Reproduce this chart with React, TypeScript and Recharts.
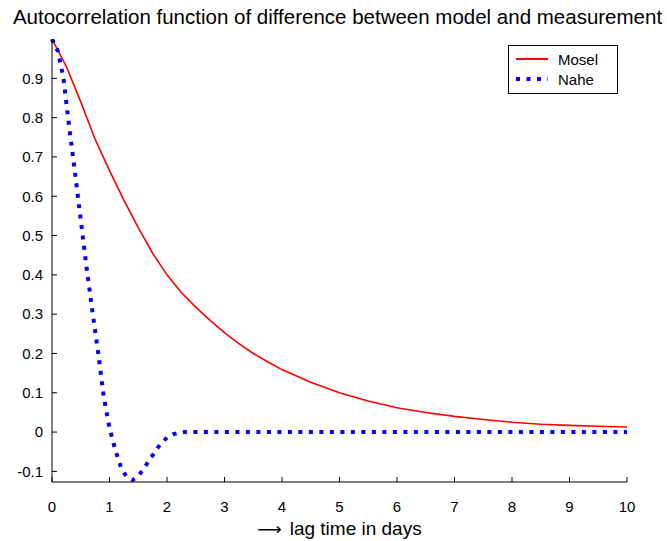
import { CartesianGrid, Label, Legend, Line, LineChart, XAxis, YAxis } from "recharts";

const TITLE = "Autocorrelation function of difference between model and measurement";
const X_LABEL = "lag time in days";

const X_TICKS = [0, 1, 2, 3, 4, 5, 6, 7, 8, 9, 10];
const Y_TICKS = [-0.1, 0, 0.1, 0.2, 0.3, 0.4, 0.5, 0.6, 0.7, 0.8, 0.9];

const MOSEL_DAYS = [0, 0.25, 0.5, 0.75, 1, 1.25, 1.5, 1.75, 2, 2.25, 2.5, 2.75, 3, 3.25, 3.5, 3.75, 4, 4.5, 5, 5.5, 6, 6.5, 7, 7.5, 8, 8.5, 9, 9.5, 10];
const MOSEL_ACF = [1, 0.93, 0.84, 0.745, 0.665, 0.59, 0.52, 0.455, 0.4, 0.355, 0.318, 0.284, 0.253, 0.225, 0.2, 0.179, 0.159, 0.127, 0.1, 0.079, 0.062, 0.05, 0.04, 0.032, 0.025, 0.02, 0.017, 0.015, 0.013];

const NAHE_DAYS = [0, 0.1, 0.2, 0.3, 0.4, 0.5, 0.6, 0.7, 0.8, 0.9, 1, 1.1, 1.2, 1.3, 1.4, 1.5, 1.6, 1.7, 1.8, 1.9, 2, 2.1, 2.2, 2.3, 2.5, 3, 4, 5, 6, 7, 8, 9, 10];
const NAHE_ACF = [1, 0.97, 0.9, 0.775, 0.66, 0.54, 0.42, 0.31, 0.205, 0.09, 0.01, -0.045, -0.09, -0.115, -0.122, -0.112, -0.092, -0.07, -0.048, -0.028, -0.014, -0.006, -0.002, 0, 0, 0, 0, 0, 0, 0, 0, 0, 0];

type Series = { key: string; label: string; color: string; width: number; dash?: string };

const SERIES: Series[] = [
  { key: "mosel", label: "Mosel", color: "#ff0000", width: 1.6 },
  { key: "nahe", label: "Nahe", color: "#0000ff", width: 4, dash: "4 6.5" },
];

const moselData = MOSEL_DAYS.map((x, i) => ({ x, mosel: MOSEL_ACF[i] }));
const naheData = NAHE_DAYS.map((x, i) => ({ x, nahe: NAHE_ACF[i] }));

const FONT = "'Liberation Sans', Arial, Helvetica, sans-serif";
const tickStyle = { fontSize: 15, fill: "#000", fontFamily: FONT };

function fmt(v: number): string {
  return String(Math.round(v * 10) / 10);
}

// xlabel with a long thin arrow, like MATLAB's \rightarrow
function XAxisTitle(props: any) {
  const vb = props.viewBox ?? { x: 0, y: 0, width: 0, height: 0 };
  const cx = vb.x + vb.width / 2;
  const y = vb.y + vb.height + 23;
  return (
    <text x={cx} y={y} textAnchor="middle" fill="#000" style={{ fontFamily: FONT, fontSize: 19 }}>
      <tspan style={{ fontFamily: "'DejaVu Sans', sans-serif", fontSize: 17 }}>{"\u27F6"}</tspan>
      <tspan dx={8}>{X_LABEL}</tspan>
    </text>
  );
}

function BoxLegend() {
  return (
    <div
      style={{
        border: "1px solid #000",
        background: "#fff",
        width: 110,
        height: 49,
        boxSizing: "border-box",
        fontFamily: FONT,
        fontSize: 15,
        color: "#000",
        padding: "3px 0 0 7px",
      }}
    >
      {SERIES.map((s) => (
        <div key={s.key} style={{ display: "flex", alignItems: "center", height: 20 }}>
          <svg width={32} height={8} style={{ marginRight: 10 }}>
            <line
              x1={0}
              y1={4}
              x2={32}
              y2={4}
              stroke={s.color}
              strokeWidth={s.dash ? 4 : 2}
              strokeDasharray={s.dash}
            />
          </svg>
          <span>{s.label}</span>
        </div>
      ))}
    </div>
  );
}

export default function App() {
  return (
    <div style={{ position: "absolute", left: 0, top: 0, width: 667, height: 541, background: "#fff" }}>
      <div
        style={{
          position: "absolute",
          left: 0,
          width: 675,
          top: 5,
          textAlign: "center",
          fontFamily: FONT,
          fontSize: 20.5,
          color: "#000",
          whiteSpace: "nowrap",
        }}
      >
        {TITLE}
      </div>
      <LineChart width={667} height={541} margin={{ top: 39, right: 40, bottom: 29, left: 0 }}>
        <CartesianGrid stroke="none" />
        <XAxis
          xAxisId="bottom"
          type="number"
          dataKey="x"
          domain={[0, 10]}
          ticks={X_TICKS}
          height={30}
          tickSize={-5}
          tickMargin={24}
          tick={tickStyle}
          axisLine={{ stroke: "#000" }}
          tickLine={{ stroke: "#000" }}
          allowDuplicatedCategory={false}
        >
          <Label content={XAxisTitle} />
        </XAxis>
        <XAxis
          xAxisId="top"
          orientation="top"
          type="number"
          dataKey="x"
          domain={[0, 10]}
          ticks={X_TICKS}
          height={0}
          tickSize={-5}
          tickFormatter={() => ""}
          axisLine={{ stroke: "#000" }}
          tickLine={{ stroke: "#000" }}
        />
        <YAxis
          yAxisId="left"
          type="number"
          domain={[-0.127, 1]}
          ticks={Y_TICKS}
          width={52}
          tickSize={-5}
          tickMargin={14}
          tick={tickStyle}
          tickFormatter={fmt}
          axisLine={{ stroke: "#000" }}
          tickLine={{ stroke: "#000" }}
          allowDataOverflow
        />
        <YAxis
          yAxisId="right"
          orientation="right"
          type="number"
          domain={[-0.127, 1]}
          ticks={Y_TICKS}
          width={0}
          tickSize={-5}
          tickFormatter={() => ""}
          axisLine={{ stroke: "#000" }}
          tickLine={{ stroke: "#000" }}
          allowDataOverflow
        />
        <Line
          xAxisId="bottom"
          yAxisId="left"
          data={moselData}
          dataKey="mosel"
          name="Mosel"
          type="linear"
          stroke={SERIES[0].color}
          strokeWidth={SERIES[0].width}
          dot={false}
          activeDot={false}
          isAnimationActive={false}
        />
        <Line
          xAxisId="bottom"
          yAxisId="left"
          data={naheData}
          dataKey="nahe"
          name="Nahe"
          type="linear"
          stroke={SERIES[1].color}
          strokeWidth={SERIES[1].width}
          strokeDasharray={SERIES[1].dash}
          dot={false}
          activeDot={false}
          isAnimationActive={false}
        />
        <Legend
          layout="vertical"
          align="center"
          verticalAlign="middle"
          content={() => <BoxLegend />}
          wrapperStyle={{ position: "absolute", left: 508, top: 45, width: 110, height: 49 }}
        />
      </LineChart>
    </div>
  );
}
